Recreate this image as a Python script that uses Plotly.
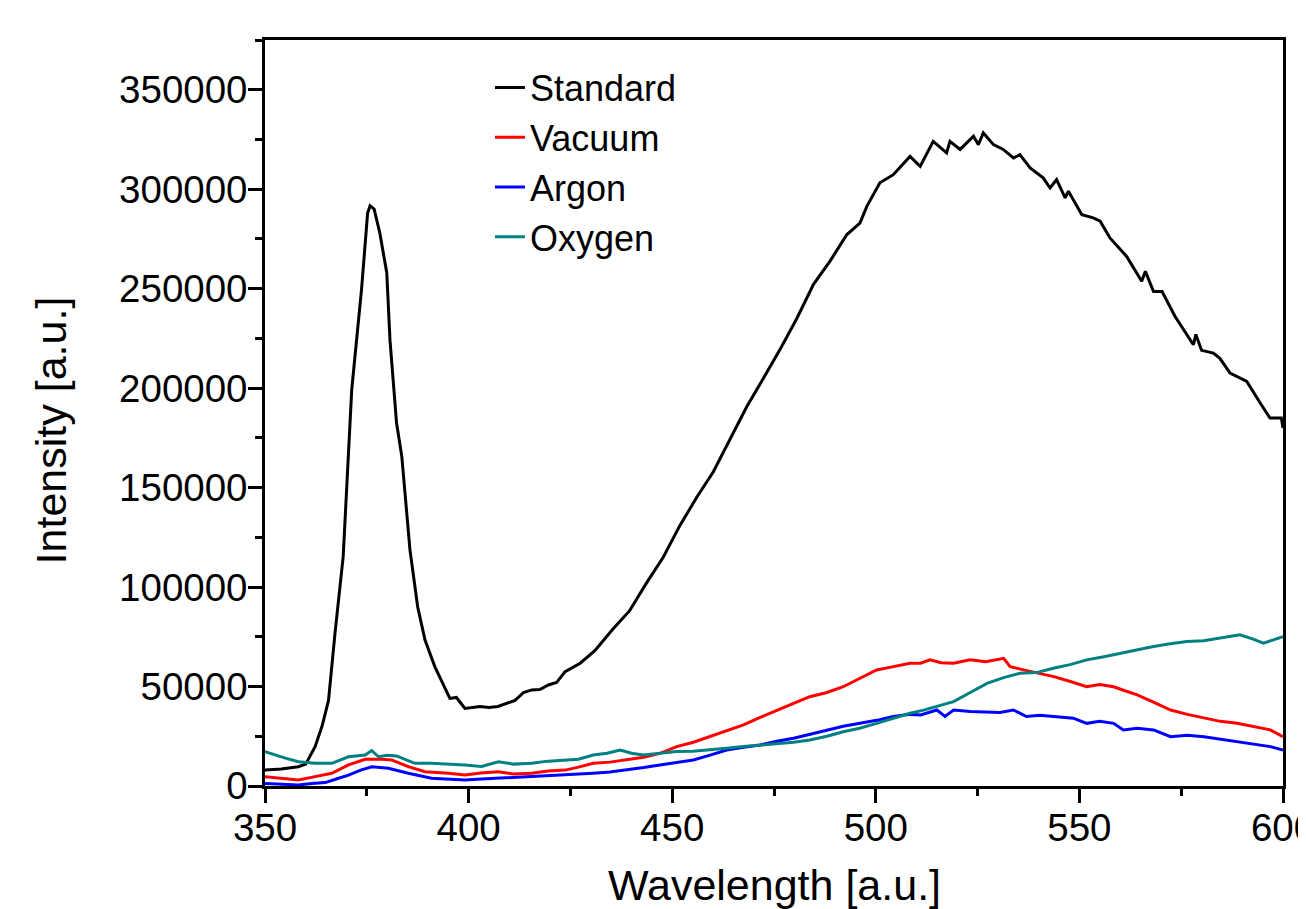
import plotly.graph_objects as go

# ---------------- data ----------------
series_names = ["Standard", "Vacuum", "Argon", "Oxygen"]
series_colors = ["#000000", "#FF0000", "#0000FF", "#008080"]

standard_x = [350, 354, 358.2, 360, 362.3, 364, 365.6, 367.2, 369.2, 371.3, 373.7, 375.2, 375.8, 376.8,
              378.2, 379.9, 380.7, 382.3, 383.6, 385.6, 387.5, 389.3, 391.7, 393.5, 395.4, 397, 399.1,
              402.8, 405, 407.2, 409.4, 411.4, 413.5, 415.5, 417.5, 419.6, 421.6, 423.7, 427.4, 431,
              435.5, 439.5, 443.7, 447.8, 451.9, 456, 460.1, 464.2, 468.3, 472.4, 476.5, 480.6, 484.7,
              488.8, 492.9, 496.1, 497.8, 501, 504.3, 508.4, 510.9, 514.1, 517.4, 518.2, 520.7, 524,
              525.2, 526.4, 528.9, 531.3, 533.8, 535.4, 537.9, 541.1, 542.8, 544.4, 546.5, 547.3, 550.6,
              553.4, 555.1, 557.5, 561.6, 565.3, 566.2, 568.2, 570.3, 573.5, 578, 578.6, 580, 582.9,
              584.5, 587, 589.5, 591.1, 594.4, 596.8, 599.6, 600]
standard_y = [8000, 8500, 9700, 11000, 19800, 30000, 43000, 77000, 115300, 199200, 249500, 288000, 291700,
              290000, 278000, 258000, 224000, 182600, 165600, 118700, 90000, 73400, 60000, 52000, 44000,
              44500, 39000, 40000, 39500, 40000, 41400, 43000, 47000, 48300, 48500, 50800, 52000, 57500,
              61700, 68000, 79000, 88000, 102100, 115000, 131000, 145000, 158000, 174000, 190600, 205000,
              219500, 235000, 252200, 264000, 277200, 283000, 291400, 303200, 307300, 316500, 311500,
              324100, 318300, 324100, 320000, 326600, 322400, 328300, 322400, 320000, 315700, 317400,
              310700, 305700, 300600, 304800, 295600, 299000, 287200, 285600, 283900, 275500, 266200,
              253700, 258700, 248600, 248600, 236000, 221800, 227000, 219000, 217600, 215000, 207600,
              205000, 203400, 192500, 185000, 185000, 180000]

vacuum_x = [350, 354, 358.2, 362.3, 366.4, 370.5, 374.6, 378.7, 381.1, 385.2, 389.3, 395.1, 399.1, 403,
            407.3, 411, 415.5, 419.5, 423.7, 427, 430.6, 434.7, 438.8, 443, 447, 451.1, 455.2, 459.3,
            463.4, 467.5, 471.6, 475.7, 479.8, 483.8, 488, 492, 496, 500.2, 504.3, 508.4, 511, 513.3,
            516, 519.1, 523.2, 527, 531.4, 533, 536, 539.6, 543.7, 547.8, 551.8, 555, 558.4, 561,
            564.2, 568.3, 572.4, 576.5, 580.6, 584.6, 588.7, 592.8, 596.9, 600]
vacuum_y = [4700, 4000, 3000, 4700, 6400, 10600, 13400, 13400, 13100, 9700, 7200, 6400, 5500, 6500,
            7200, 6000, 6400, 7500, 8000, 9500, 11400, 12000, 13100, 14500, 16400, 19800, 22000, 24800,
            27500, 30700, 34500, 38200, 41500, 44900, 47000, 49900, 54000, 58300, 60000, 61700, 61700,
            63400, 62000, 61700, 63400, 62500, 64200, 60000, 58500, 56700, 55000, 52500, 49900, 51000,
            49900, 48000, 45800, 42000, 38200, 36000, 34100, 32500, 31500, 30000, 28200, 24800]

argon_x = [350, 354, 358.2, 361.5, 364.8, 367.5, 370.5, 373.5, 376.2, 380.3, 385.2, 390.9, 395, 399.1,
           403.2, 407.3, 411.4, 415.5, 419.5, 423.7, 427, 430.6, 434.7, 438.8, 443, 447, 451.1, 455.2,
           459.3, 463.4, 467.5, 471.6, 475.7, 479.8, 483.9, 488, 492, 496.1, 500.2, 504.3, 508.4, 511,
           515, 517, 519.1, 523.2, 527.3, 530.5, 533.8, 537, 540.3, 543.6, 548.5, 551.8, 555, 558.4,
           560.8, 564.2, 568.2, 572.4, 576.5, 580.6, 584.6, 588.7, 592.8, 596.9, 600]
argon_y = [1300, 1000, 500, 1200, 1700, 3500, 5500, 8000, 9700, 8900, 6400, 3900, 3500, 3000,
           3500, 3900, 4500, 4700, 5200, 5500, 6000, 6400, 7000, 8000, 9300, 10600, 11800, 13100,
           15500, 18100, 19500, 20600, 22500, 24000, 26000, 28200, 30000, 31500, 33000, 34900, 36000,
           35700, 38200, 35000, 38200, 37500, 37400, 37000, 38200, 34900, 35500, 34900, 34100, 31500,
           32500, 31500, 28200, 29000, 28200, 24800, 25500, 24800, 23500, 22300, 21000, 19800, 18100]

oxygen_x = [350, 352.5, 355, 358.2, 362.3, 366.4, 370.5, 374.6, 376.2, 377.9, 380, 382.3, 386.8, 390.9,
            395, 399.1, 403.2, 407.3, 411, 415.5, 419.5, 423.7, 427, 430.6, 434, 437.2, 440, 442.9,
            447, 451.1, 455, 459.3, 463.4, 467.5, 471.6, 475.7, 479.8, 483.8, 488, 492, 496, 500.2,
            504.3, 508.4, 511.5, 515, 519.1, 523.2, 527.3, 531.4, 535.4, 539.5, 543.6, 547.7, 551.8,
            556, 560, 564.1, 568.2, 572.3, 576.4, 580.5, 584.5, 589.4, 592.5, 595.2, 600]
oxygen_y = [17300, 15600, 14000, 12200, 11400, 11400, 14700, 15600, 17800, 14700, 15500, 15100, 11400,
            11400, 11000, 10600, 9800, 12200, 11000, 11400, 12500, 13100, 13500, 15600, 16500, 18100,
            16500, 15600, 16500, 17300, 17500, 18100, 19000, 19800, 20500, 21500, 22000, 23100, 25000,
            27300, 29000, 31500, 34000, 36600, 38000, 40200, 42400, 47000, 51600, 54500, 56700, 57000,
            59200, 61000, 63400, 65000, 66700, 68500, 70100, 71500, 72600, 73000, 74300, 76000, 74000,
            71800, 75100]

x_tick_values = [350, 400, 450, 500, 550, 600]
y_tick_values = [0, 50000, 100000, 150000, 200000, 250000, 300000, 350000]

x_title = "Wavelength [a.u.]"
y_title = "Intensity [a.u.]"

# ---------------- figure ----------------
FONT = "Liberation Sans, Arial, sans-serif"

all_x = [standard_x, vacuum_x, argon_x, oxygen_x]
all_y = [standard_y, vacuum_y, argon_y, oxygen_y]

fig = go.Figure()
for name, color, xs, ys in zip(series_names, series_colors, all_x, all_y):
    fig.add_trace(go.Scatter(x=xs, y=ys, mode="lines", name=name,
                             line=dict(color=color, width=3)))

axis_common = dict(
    showgrid=False, zeroline=False,
    showline=True, linecolor="black", linewidth=2.5, mirror=True,
    ticks="outside", ticklen=14, tickwidth=2.5, tickcolor="black",
    tickfont=dict(family=FONT, size=38.5, color="black"),
    automargin=False,
)

fig.update_xaxes(range=[350, 600], tickvals=x_tick_values,
                 ticklabeloverflow="allow", ticklabelstandoff=-8,
                 minor=dict(dtick=25, ticklen=7, tickwidth=2.5, tickcolor="black", ticks="outside"),
                 **axis_common)
fig.update_yaxes(range=[0, 375000], tickvals=y_tick_values, tickformat="d",
                 ticklabelstandoff=-7,
                 minor=dict(dtick=25000, ticklen=7, tickwidth=2.5, tickcolor="black", ticks="outside"),
                 **axis_common)

# the page body adds an 8px offset, so the figure is 8px smaller than the window
fig.update_layout(
    width=1298, height=901,
    margin=dict(l=257, r=23, t=32, b=123),
    paper_bgcolor="white", plot_bgcolor="white",
    font=dict(family=FONT, color="black"),
    showlegend=True,
    legend=dict(x=0.221, y=0.9765, xanchor="left", yanchor="top",
                bgcolor="rgba(0,0,0,0)", borderwidth=0,
                font=dict(family=FONT, size=36, color="black"),
                itemwidth=30),
    annotations=[
        dict(text=x_title, xref="paper", yref="paper", x=0.5, y=-0.1327,
             xanchor="center", yanchor="middle", showarrow=False,
             font=dict(family=FONT, size=43, color="black")),
        dict(text=y_title, xref="paper", yref="paper", x=-0.210, y=0.477,
             xanchor="center", yanchor="middle", textangle=-90, showarrow=False,
             font=dict(family=FONT, size=43, color="black")),
    ],
)

fig.write_html("out.html")
